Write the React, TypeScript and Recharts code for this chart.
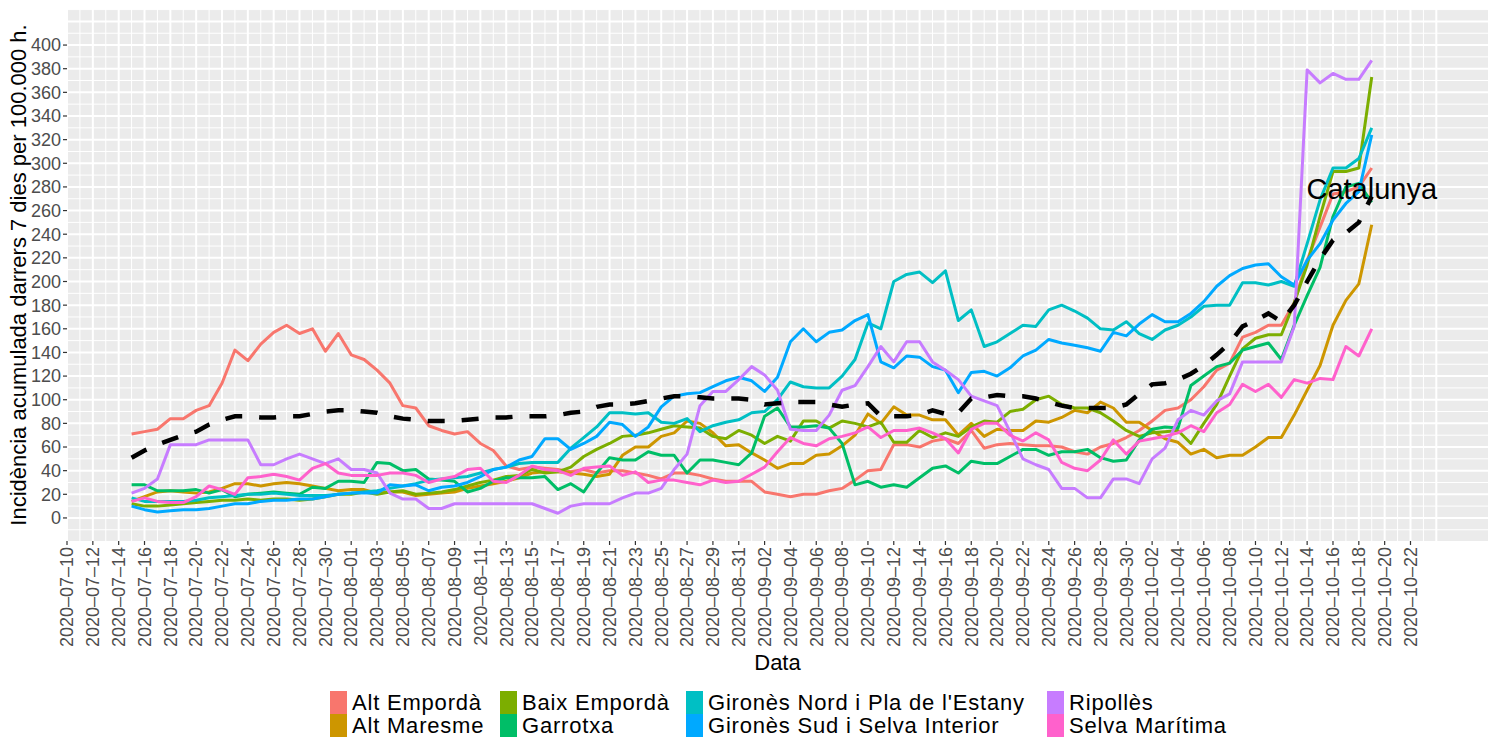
import React from 'react';
import { LineChart, Line, XAxis, YAxis, CartesianGrid, ReferenceDot } from 'recharts';

const FONT = '"Liberation Sans", Arial, Helvetica, sans-serif';

// x axis starts here; data runs from FIRST_DAY, one value per day
const AXIS_START = '2020-07-10';
const FIRST_DAY = '2020-07-15';

const tickLabels = [
  '2020-07-10', '2020-07-12', '2020-07-14', '2020-07-16', '2020-07-18', '2020-07-20', '2020-07-22',
  '2020-07-24', '2020-07-26', '2020-07-28', '2020-07-30', '2020-08-01', '2020-08-03', '2020-08-05',
  '2020-08-07', '2020-08-09', '2020-08-11', '2020-08-13', '2020-08-15', '2020-08-17', '2020-08-19',
  '2020-08-21', '2020-08-23', '2020-08-25', '2020-08-27', '2020-08-29', '2020-08-31', '2020-09-02',
  '2020-09-04', '2020-09-06', '2020-09-08', '2020-09-10', '2020-09-12', '2020-09-14', '2020-09-16',
  '2020-09-18', '2020-09-20', '2020-09-22', '2020-09-24', '2020-09-26', '2020-09-28', '2020-09-30',
  '2020-10-02', '2020-10-04', '2020-10-06', '2020-10-08', '2020-10-10', '2020-10-12', '2020-10-14',
  '2020-10-16', '2020-10-18', '2020-10-20', '2020-10-22',
];

const yTicks = [0, 20, 40, 60, 80, 100, 120, 140, 160, 180, 200, 220, 240, 260, 280, 300, 320, 340, 360, 380, 400];

const altEmporda = [
  71, 73, 75, 84, 84, 91, 95, 114, 142, 133,
  147, 157, 163, 156, 160, 141, 156, 138, 134, 125,
  114, 95, 93, 78, 74, 71, 73, 63, 57, 44,
  41, 43, 42, 41, 39, 41, 38, 40, 40, 38,
  36, 33, 38, 38, 36, 33, 31, 31, 31, 22,
  20, 18, 20, 20, 23, 25, 32, 40, 41, 62,
  62, 60, 65, 67, 63, 74, 59, 62, 63, 62,
  61, 61, 60, 56, 54, 60, 63, 68, 74, 82,
  91, 93, 100, 111, 125, 131, 153, 157, 163, 163,
  182, 218, 246, 274, 276, 280, 296,
];

const altMaresme = [
  14, 18, 22, 23, 22, 21, 22, 25, 29, 29,
  27, 29, 30, 29, 27, 25, 23, 24, 24, 21,
  22, 22, 19, 20, 21, 22, 25, 27, 29, 31,
  34, 38, 39, 39, 38, 37, 35, 37, 53, 60,
  60, 69, 72, 82, 80, 72, 61, 62, 55, 49,
  42, 46, 46, 53, 54, 61, 70, 88, 80, 94,
  87, 87, 83, 83, 70, 80, 69, 75, 74, 74,
  82, 81, 85, 91, 89, 98, 93, 81, 81, 74,
  67, 64, 54, 58, 51, 53, 53, 60, 68, 68,
  87, 108, 129, 163, 184, 198, 248,
];

const baixEmporda = [
  12, 10, 10, 11, 12, 13, 14, 15, 15, 16,
  15, 16, 16, 15, 16, 18, 20, 20, 22, 20,
  22, 23, 20, 21, 22, 24, 27, 30, 32, 35,
  36, 41, 38, 39, 43, 52, 58, 63, 69, 70,
  72, 75, 78, 77, 76, 69, 67, 74, 70, 63,
  69, 65, 82, 82, 76, 82, 80, 77, 81, 64,
  64, 74, 68, 72, 69, 77, 82, 81, 90, 92,
  100, 103, 96, 93, 93, 89, 82, 74, 69, 72,
  73, 74, 63, 80, 96, 120, 143, 152, 155, 155,
  182, 214, 255, 293, 293, 296, 373,
];

const garrotxa = [
  28, 28, 23, 23, 23, 24, 21, 24, 18, 20,
  21, 22, 21, 20, 26, 25, 31, 31, 30, 47,
  46, 40, 41, 33, 32, 31, 22, 25, 31, 34,
  34, 34, 35, 24, 29, 22, 38, 51, 49, 49,
  56, 53, 53, 38, 49, 49, 47, 45, 55, 86,
  93, 77, 77, 78, 76, 63, 28, 31, 26, 28,
  26, 34, 42, 44, 38, 48, 46, 46, 52, 58,
  58, 53, 56, 56, 58, 51, 48, 49, 66, 75,
  77, 76, 112, 120, 128, 131, 142, 145, 148, 134,
  163, 188, 212, 255, 280, 283, 267,
];

const gironesNord = [
  17, 14, 14, 14, 14, 15, 17, 18, 19, 20,
  20, 21, 20, 19, 19, 19, 20, 21, 22, 23,
  25, 27, 29, 32, 33, 34, 35, 38, 41, 43,
  46, 47, 47, 47, 59, 68, 77, 89, 89, 88,
  89, 81, 80, 84, 73, 78, 81, 83, 89, 90,
  100, 115, 111, 110, 110, 120, 134, 165, 160, 200,
  206, 208, 199, 209, 167, 176, 145, 149, 156, 163,
  162, 176, 180, 175, 169, 160, 159, 166, 156, 151,
  159, 163, 170, 179, 180, 180, 199, 199, 197, 200,
  196, 232, 269, 296, 296, 304, 330,
];

const gironesSud = [
  10, 7, 5, 6, 7, 7, 8, 10, 12, 12,
  14, 15, 15, 16, 16, 18, 20, 21, 21, 21,
  28, 27, 28, 23, 26, 27, 30, 35, 41, 43,
  49, 52, 67, 67, 58, 63, 69, 81, 79, 69,
  77, 94, 103, 105, 106, 111, 116, 119, 116, 107,
  119, 149, 160, 149, 157, 159, 167, 172, 132, 127,
  137, 136, 128, 125, 106, 123, 124, 120, 127, 137,
  142, 151, 148, 146, 144, 141, 157, 154, 164, 172,
  166, 166, 173, 183, 196, 205, 211, 214, 215, 204,
  197, 218, 232, 252, 266, 276, 324,
];

const ripolles = [
  21, 25, 33, 62, 62, 62, 66, 66, 66, 66,
  45, 45, 50, 54, 50, 46, 50, 41, 41, 38,
  21, 16, 16, 8, 8, 12, 12, 12, 12, 12,
  12, 12, 8, 4, 10, 12, 12, 12, 17, 21,
  21, 25, 41, 54, 95, 107, 107, 117, 128, 121,
  108, 75, 74, 74, 87, 108, 112, 128, 145, 132,
  149, 149, 132, 125, 117, 103, 99, 95, 73, 50,
  45, 41, 25, 25, 17, 17, 33, 33, 29, 50,
  59, 83, 91, 87, 99, 105, 132, 132, 132, 132,
  162, 379, 368, 376, 371, 371, 387,
];

const selvaMaritima = [
  14, 17, 14, 13, 13, 18, 27, 24, 20, 34,
  35, 37, 35, 32, 42, 46, 38, 36, 36, 36,
  38, 38, 36, 30, 33, 35, 41, 42, 31, 30,
  36, 44, 41, 40, 36, 42, 43, 44, 36, 39,
  30, 32, 32, 30, 28, 32, 30, 31, 37, 43,
  56, 68, 63, 61, 67, 69, 72, 77, 68, 74,
  74, 76, 72, 67, 55, 75, 80, 80, 70, 65,
  72, 66, 47, 42, 40, 49, 66, 54, 65, 67,
  69, 72, 78, 73, 89, 96, 113, 107, 113, 102,
  117, 114, 118, 117, 145, 137, 160,
];

const catalunya = [
  51, 57, 62, 66, 70, 73, 79, 83, 86, 86,
  85, 85, 86, 86, 88, 90, 91, 91, 90, 89,
  86, 84, 83, 82, 82, 82, 83, 84, 85, 85,
  86, 86, 86, 87, 89, 90, 94, 96, 96, 97,
  99, 101, 103, 103, 102, 101, 101, 101, 100, 96,
  97, 98, 98, 98, 96, 94, 96, 97, 86, 86,
  86, 87, 91, 88, 89, 101, 102, 104, 103, 103,
  101, 98, 95, 93, 93, 93, 93, 96, 105, 113,
  114, 117, 122, 129, 138, 148, 162, 167, 173, 166,
  180, 200, 219, 235, 241, 250, 272,
];

// where the "Catalunya" text sits
const catalunyaLabelY = 278;

const series = [
  { key: 'ae', name: 'Alt Empordà', color: '#F8766D', values: altEmporda },
  { key: 'am', name: 'Alt Maresme', color: '#CD9600', values: altMaresme },
  { key: 'be', name: 'Baix Empordà', color: '#7CAE00', values: baixEmporda },
  { key: 'ga', name: 'Garrotxa', color: '#00BE67', values: garrotxa },
  { key: 'gn', name: "Gironès Nord i Pla de l'Estany", color: '#00BFC4', values: gironesNord },
  { key: 'gs', name: 'Gironès Sud i Selva Interior', color: '#00A9FF', values: gironesSud },
  { key: 'ri', name: 'Ripollès', color: '#C77CFF', values: ripolles },
  { key: 'sm', name: 'Selva Marítima', color: '#FF61CC', values: selvaMaritima },
];

const DAY = 86400000;
const dayIndex = (iso: string) => Math.round((Date.parse(iso) - Date.parse(AXIS_START)) / DAY);
const firstIndex = dayIndex(FIRST_DAY);

const data = catalunya.map((v, i) => {
  const row: any = { d: firstIndex + i, cat: v };
  series.forEach((s) => { row[s.key] = s.values[i]; });
  return row;
});
const lastIndex = firstIndex + catalunya.length - 1;

const xTicks = tickLabels.map(dayIndex);
const labelByDay: Record<number, string> = {};
tickLabels.forEach((l) => { labelByDay[dayIndex(l)] = l.replace(/-/g, '–'); });

const range = (a: number, b: number, step: number) => {
  const out: number[] = [];
  for (let v = a; v <= b; v += step) out.push(v);
  return out;
};
const hMinor = range(-10, 430, 20);
const hMajor = range(0, 420, 20);
const vMinor = range(1, 105, 2);
const vMajor = range(0, 106, 2);

const DateTick = (props: any) => {
  const { x, y, payload } = props;
  return (
    <text
      x={x}
      y={y}
      dy="0.35em"
      transform={`rotate(-90 ${x} ${y})`}
      textAnchor="end"
      fill="#4D4D4D"
      fontSize={18}
      fontFamily={FONT}
    >
      {labelByDay[payload.value]}
    </text>
  );
};

const legendColumns = [
  { left: 330, items: [series[0], series[1]] },
  { left: 500, items: [series[2], series[3]] },
  { left: 686, items: [series[4], series[5]] },
  { left: 1047, items: [series[6], series[7]] },
];

export default function App() {
  return (
    <div style={{ position: 'absolute', left: 0, top: 0, width: 1494, height: 738, background: '#fff' }}>
      <LineChart width={1494} height={738} data={data} margin={{ top: 9, right: 6, bottom: 0, left: 0 }}>
        <CartesianGrid
          fill="#EBEBEB"
          stroke="#FFFFFF"
          strokeWidth={1}
          horizontalValues={hMinor}
          verticalValues={vMinor}
        />
        <CartesianGrid
          stroke="#FFFFFF"
          strokeWidth={2}
          horizontalValues={hMajor}
          verticalValues={vMajor}
        />
        <XAxis
          dataKey="d"
          type="number"
          domain={[0, 110]}
          allowDataOverflow
          ticks={xTicks}
          interval={0}
          height={197}
          axisLine={false}
          tickSize={4}
          tickMargin={2}
          tickLine={{ stroke: '#333333', strokeWidth: 1.2 }}
          tick={<DateTick />}
          label={{
            content: (p: any) => {
              const vb = p.viewBox;
              return (
                <text x={vb.x + vb.width / 2} y={vb.y + 121} dy="0.35em" textAnchor="middle" fontSize={22} fontFamily={FONT} fill="#000">
                  Data
                </text>
              );
            },
          }}
        />
        <YAxis
          type="number"
          domain={[-19.5, 430.5]}
          allowDataOverflow
          ticks={yTicks}
          interval={0}
          width={67}
          axisLine={false}
          tickSize={4}
          tickMargin={2}
          tickLine={{ stroke: '#333333', strokeWidth: 1.2 }}
          tick={{ fill: '#4D4D4D', fontSize: 18, fontFamily: FONT }}
          label={{
            content: (p: any) => {
              const vb = p.viewBox;
              const cx = 18;
              const cy = vb.y + vb.height / 2;
              return (
                <text x={cx} y={cy} dy="0.35em" transform={`rotate(-90 ${cx} ${cy})`} textAnchor="middle" fontSize={22} fontFamily={FONT} fill="#000">
                  Incidència acumulada darrers 7 dies per 100.000 h.
                </text>
              );
            },
          }}
        />
        {series.map((s) => (
          <Line
            key={s.key}
            dataKey={s.key}
            name={s.name}
            type="linear"
            stroke={s.color}
            strokeWidth={3}
            strokeLinejoin="round"
            dot={false}
            activeDot={false}
            isAnimationActive={false}
          />
        ))}
        <Line
          dataKey="cat"
          name="Catalunya"
          type="linear"
          stroke="#000000"
          strokeWidth={4.5}
          strokeDasharray="17 17"
          dot={false}
          activeDot={false}
          isAnimationActive={false}
        />
        <ReferenceDot
          x={lastIndex}
          y={catalunyaLabelY}
          r={0}
          shape={(p: any) => (
            <text x={p.cx} y={p.cy} dy="0.35em" textAnchor="middle" fontSize={29} fontFamily={FONT} fill="#000">
              Catalunya
            </text>
          )}
        />
      </LineChart>
      {legendColumns.map((col) => (
        <div key={col.left} style={{ position: 'absolute', left: col.left, top: 691 }}>
          {col.items.map((s) => (
            <div key={s.key} style={{ display: 'flex', alignItems: 'center', height: 23 }}>
              <div style={{ width: 17, height: 23, background: s.color }} />
              <span
                style={{
                  marginLeft: 5,
                  fontFamily: FONT,
                  fontSize: 22,
                  letterSpacing: 0.8,
                  lineHeight: '23px',
                  color: '#000',
                  whiteSpace: 'nowrap',
                }}
              >
                {s.name}
              </span>
            </div>
          ))}
        </div>
      ))}
    </div>
  );
}
